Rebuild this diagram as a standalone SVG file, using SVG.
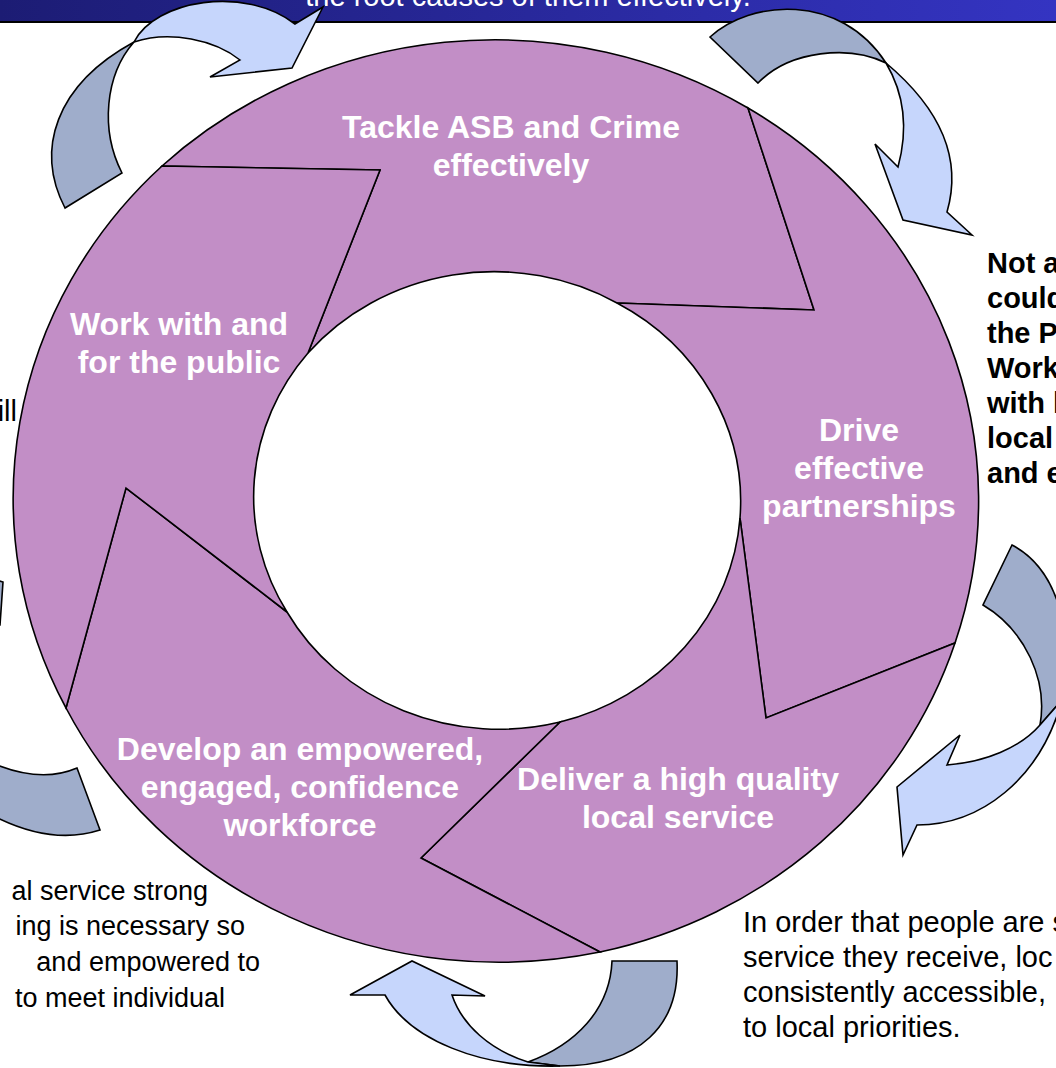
<svg xmlns="http://www.w3.org/2000/svg" width="1056" height="1068" viewBox="0 0 1056 1068">
<defs>
<linearGradient id="bannerGrad" x1="0" y1="0" x2="1" y2="0">
<stop offset="0" stop-color="#1C1C74"/>
<stop offset="1" stop-color="#3434C2"/>
</linearGradient>
<style>
.seg{fill:#C28EC6;stroke:#000;stroke-width:1.6;stroke-linejoin:miter}
.lbl{font-family:"Liberation Sans",Arial,sans-serif;font-weight:bold;font-size:32px;fill:#fff;text-anchor:middle}
.dark{fill:#9FADCB;stroke:#000;stroke-width:1.6;stroke-linejoin:miter}
.light{fill:#C6D6FC;stroke:#000;stroke-width:1.6;stroke-linejoin:miter}
.desc{font-family:"Liberation Sans",Arial,sans-serif;font-size:29px;fill:#000}
.descl{font-family:"Liberation Sans",Arial,sans-serif;font-size:27px;fill:#000}
.descb{font-family:"Liberation Sans",Arial,sans-serif;font-size:29px;font-weight:bold;fill:#000}
</style>
</defs>
<rect width="1056" height="1068" fill="#fff"/>
<g id="banner">
<rect x="0" y="0" width="1056" height="21" fill="url(#bannerGrad)"/>
<line x1="0" y1="22" x2="1056" y2="22" stroke="#000" stroke-width="2"/>
<text x="528" y="6" text-anchor="middle" font-family="Liberation Sans, Arial, sans-serif" font-size="29" fill="#fff">the root causes of them effectively.</text>
</g>
<g id="segment-tackle">
<path class="seg" d="M162,166 A484,461 0 0 1 748,108 L814,310 L617,303 A243,228 0 0 0 308,353 L380,170 Z"/>
<text class="lbl" x="511" y="138">Tackle ASB and Crime<tspan x="511" dy="38">effectively</tspan></text>
</g>
<g id="segment-drive">
<path class="seg" d="M748,108 A484,461 0 0 1 955,643 L766,718 L740,518 A243,228 0 0 0 617,303 L814,310 Z"/>
<text class="lbl" x="859" y="441">Drive<tspan x="859" dy="38">effective</tspan><tspan x="859" dy="38">partnerships</tspan></text>
</g>
<g id="segment-deliver">
<path class="seg" d="M955,643 A484,461 0 0 1 600,952 L421,858 L560,722 A243,228 0 0 0 740,518 L766,718 Z"/>
<text class="lbl" x="678" y="790">Deliver a high quality<tspan x="678" dy="38">local service</tspan></text>
</g>
<g id="segment-develop">
<path class="seg" d="M600,952 A484,461 0 0 1 66,708 L126,488 L287,612 A243,228 0 0 0 560,722 L421,858 Z"/>
<text class="lbl" x="300" y="760">Develop an empowered,<tspan x="300" dy="38">engaged, confidence</tspan><tspan x="300" dy="38">workforce</tspan></text>
</g>
<g id="segment-work">
<path class="seg" d="M66,708 A484,461 0 0 1 162,166 L380,170 L308,353 A243,228 0 0 0 287,612 L126,488 Z"/>
<text class="lbl" x="179" y="335">Work with and<tspan x="179" dy="38">for the public</tspan></text>
</g>
<g id="connectors">
<g id="arrow-top-left">
<path class="dark" d="M65,208 C35,150 55,85 134,42 C105,75 100,130 122,173 Z"/>
<path class="light" d="M134,42 C155,0 245,-15 295,24 L323,7 L292,68 L210,77 L240,60 C215,40 170,30 134,42 Z"/>
</g>
<g id="arrow-top-right">
<path class="dark" d="M710,37 C750,0 840,-8 886,63 C850,45 790,50 758,83 Z"/>
<path class="light" d="M886,63 C930,100 965,150 947,212 L972,235 L903,220 L875,144 L898,167 C908,130 905,95 886,63 Z"/>
</g>
<g id="arrow-right">
<path class="dark" d="M1012,545 C1060,570 1075,640 1062,700 L1040,725 C1048,680 1025,630 983,605 Z"/>
<path class="light" d="M1062,700 C1040,780 980,825 917,825 L903,855 L897,787 L960,735 L947,765 C985,762 1020,748 1040,725 Z"/>
</g>
<g id="arrow-bottom">
<path class="dark" d="M677,961 C680,1025 640,1066 560,1066 L528,1062 C575,1045 610,1010 612,961 Z"/>
<path class="light" d="M560,1066 C480,1068 410,1040 385,995 L350,995 L412,961 L485,996 L452,995 C462,1025 490,1050 528,1062 Z"/>
</g>
<g id="arrow-bottom-left">
<path class="dark" d="M-10,762 Q40,784 77,768 L100,830 Q50,846 -10,814 Z"/>
</g>
<g id="arrow-left">
<path class="dark" d="M-20,575 L3,582 L0,625 L-20,625 Z"/>
</g>
</g>
<g id="notes">
<text class="descb" x="987"><tspan x="987" y="273">Not a</tspan><tspan x="987" y="308">could</tspan><tspan x="987" y="343">the P</tspan><tspan x="987" y="378">Work</tspan><tspan x="987" y="413">with l</tspan><tspan x="987" y="448">local</tspan><tspan x="987" y="483">and e</tspan></text>
<text class="desc" x="17" y="421" text-anchor="end" font-size="28">ill</text>
<text class="descl" text-anchor="end"><tspan x="208" y="900">al service strong</tspan><tspan x="245" y="935">ing is necessary so</tspan><tspan x="260" y="971">and empowered to</tspan><tspan x="225" y="1007">to meet individual</tspan></text>
<text class="desc"><tspan x="743" y="932">In order that people are s</tspan><tspan x="743" y="967">service they receive, loc</tspan><tspan x="743" y="1002">consistently accessible,</tspan><tspan x="743" y="1037">to local priorities.</tspan></text>
</g>
</svg>
